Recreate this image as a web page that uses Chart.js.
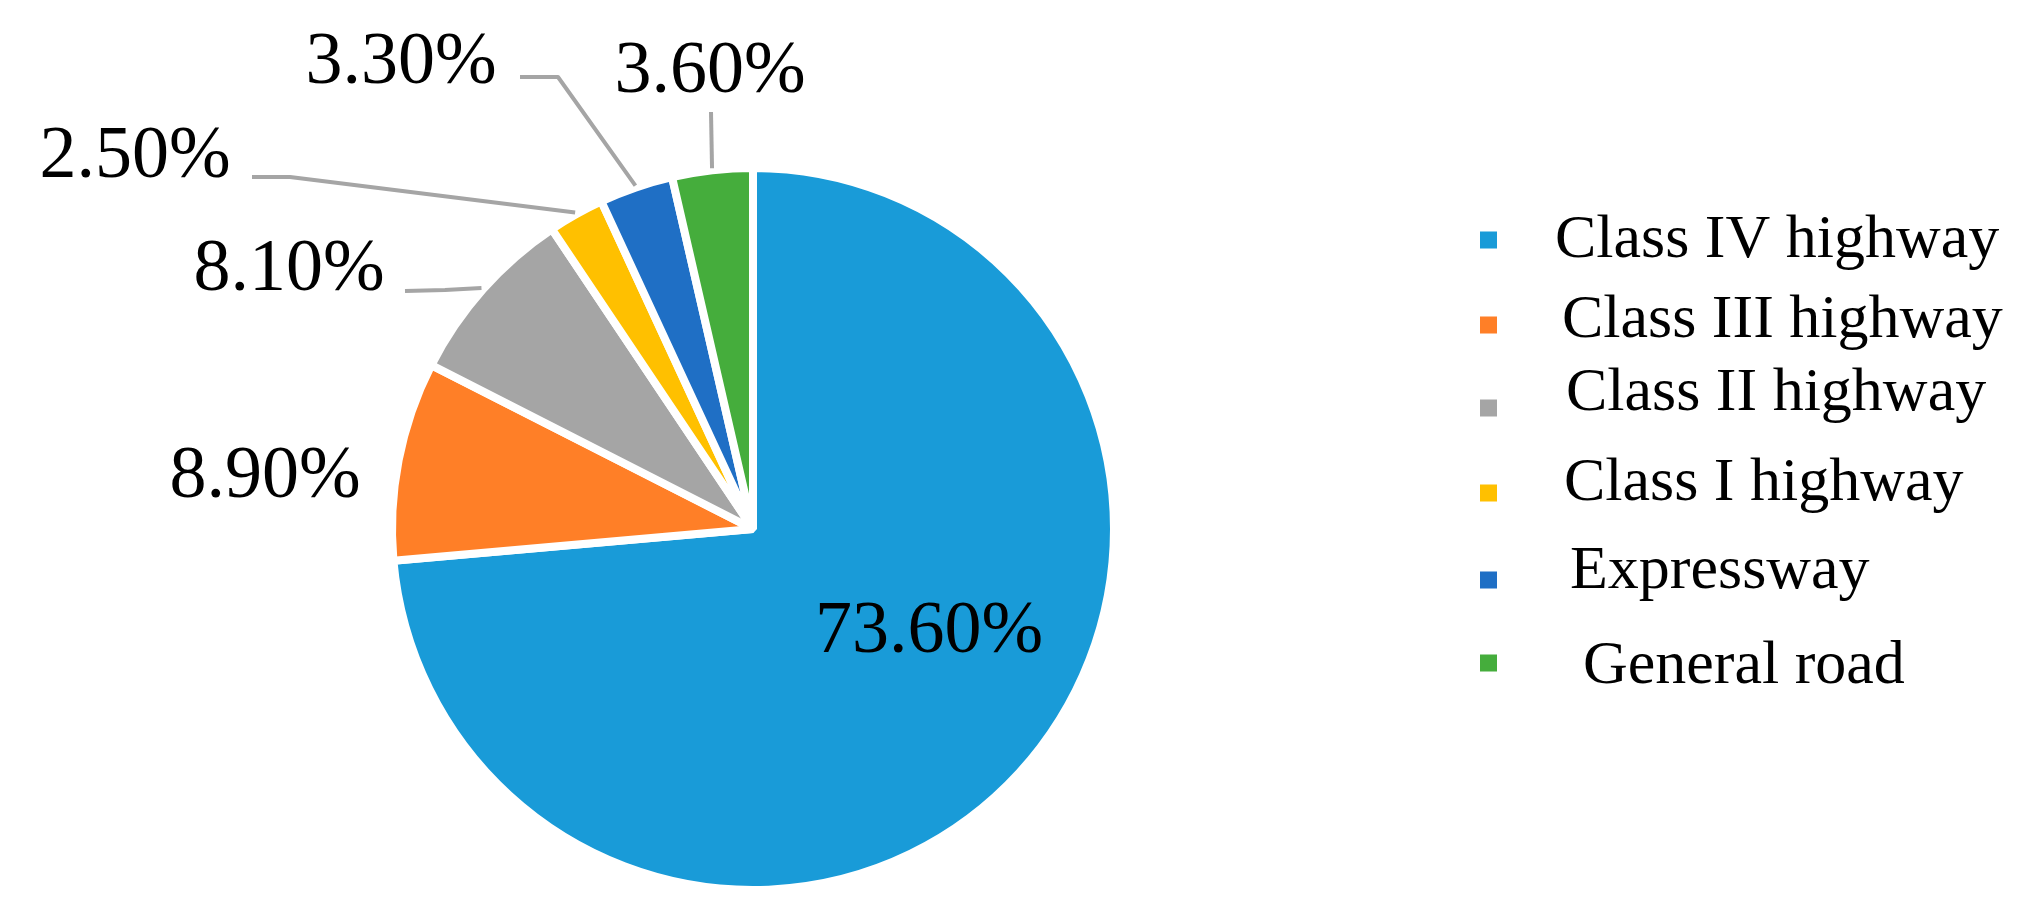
<!DOCTYPE html>
<html>
<head>
<meta charset="utf-8">
<script src="https://cdn.jsdelivr.net/npm/chart.js@4.4.1/dist/chart.umd.min.js"></script>
<style>
    html, body { margin: 0; padding: 0; background: #fff; }
    .chart-box { width: 2035px; height: 917px; position: relative; }
</style>
</head>
<body>
<div class="chart-box"><canvas id="roadShareChart"></canvas></div>
<script>
const roadClasses = ['Class IV highway', 'Class III highway', 'Class II highway', 'Class I highway', 'Expressway', 'General road'];
const roadShares = [73.6, 8.9, 8.1, 2.5, 3.3, 3.6];
const shareLabels = ['73.60%', '8.90%', '8.10%', '2.50%', '3.30%', '3.60%'];
const sliceColors = ['#199BD8', '#FF7F27', '#A5A5A5', '#FFC000', '#1F6FC5', '#45AD3C'];

// label anchors, relative to the pie centre (px), baseline alignment
const labelOffsets = [[176, 123], [-488, -32], [-464, -239], [-618, -352], [-352, -446], [-43, -437]];
// leader line points after the slice edge, relative to the pie centre
const leaderPaths = [null, null, [[-308, -239], [-348, -238]], [[-463, -352], [-501, -352]], [[-195, -452], [-233, -452]], [[-42, -417]]];

// legend layout (px)
const legendBoxX = 1480;
const legendBoxSize = 17;
const legendBoxY = [240, 325, 408, 493, 580, 663];
const legendTextX = [1555, 1562, 1566, 1564, 1570, 1583];
const legendBaseline = [257, 337, 410, 500, 588, 683];

const serif = '"Times New Roman", "Liberation Serif", serif';

const pieLabels = {
    id: 'pieLabels',
    afterDatasetsDraw(chart) {
        const ctx = chart.ctx;
        const arcs = chart.getDatasetMeta(0).data;
        ctx.save();
        arcs.forEach((arc, i) => {
            const cx = arc.x, cy = arc.y;
            const path = leaderPaths[i];
            if (path) {
                const mid = (arc.startAngle + arc.endAngle) / 2;
                const r = arc.outerRadius + 2;
                ctx.beginPath();
                ctx.moveTo(cx + Math.cos(mid) * r, cy + Math.sin(mid) * r);
                path.forEach(([dx, dy]) => ctx.lineTo(cx + dx, cy + dy));
                ctx.strokeStyle = '#A5A5A5';
                ctx.lineWidth = 4;
                ctx.lineJoin = 'round';
                ctx.stroke();
            }
            ctx.fillStyle = '#000';
            ctx.font = '74px ' + serif;
            ctx.textAlign = 'center';
            ctx.textBaseline = 'alphabetic';
            ctx.fillText(shareLabels[i], cx + labelOffsets[i][0], cy + labelOffsets[i][1]);
        });

        // legend
        ctx.font = '62px ' + serif;
        ctx.textAlign = 'left';
        roadClasses.forEach((name, i) => {
            ctx.fillStyle = sliceColors[i];
            ctx.fillRect(legendBoxX, legendBoxY[i] - legendBoxSize / 2, legendBoxSize, legendBoxSize);
            ctx.fillStyle = '#000';
            ctx.fillText(name, legendTextX[i], legendBaseline[i]);
        });
        ctx.restore();
    }
};

const ctx = document.getElementById('roadShareChart');

new Chart(ctx, {
    type: 'pie',
    data: {
        labels: roadClasses,
        datasets: [{
            data: roadShares,
            backgroundColor: sliceColors,
            borderColor: '#fff',
            borderWidth: 8,
        }]
    },
    options: {
        responsive: true,
        maintainAspectRatio: false,
        animation: false,
        devicePixelRatio: 1,
        layout: {
            padding: {left: 388, right: 917, top: 164, bottom: 23}
        },
        plugins: {
            legend: {display: false},
            tooltip: {enabled: false},
        },
    },
    plugins: [pieLabels]
})
</script>
</body>
</html>
